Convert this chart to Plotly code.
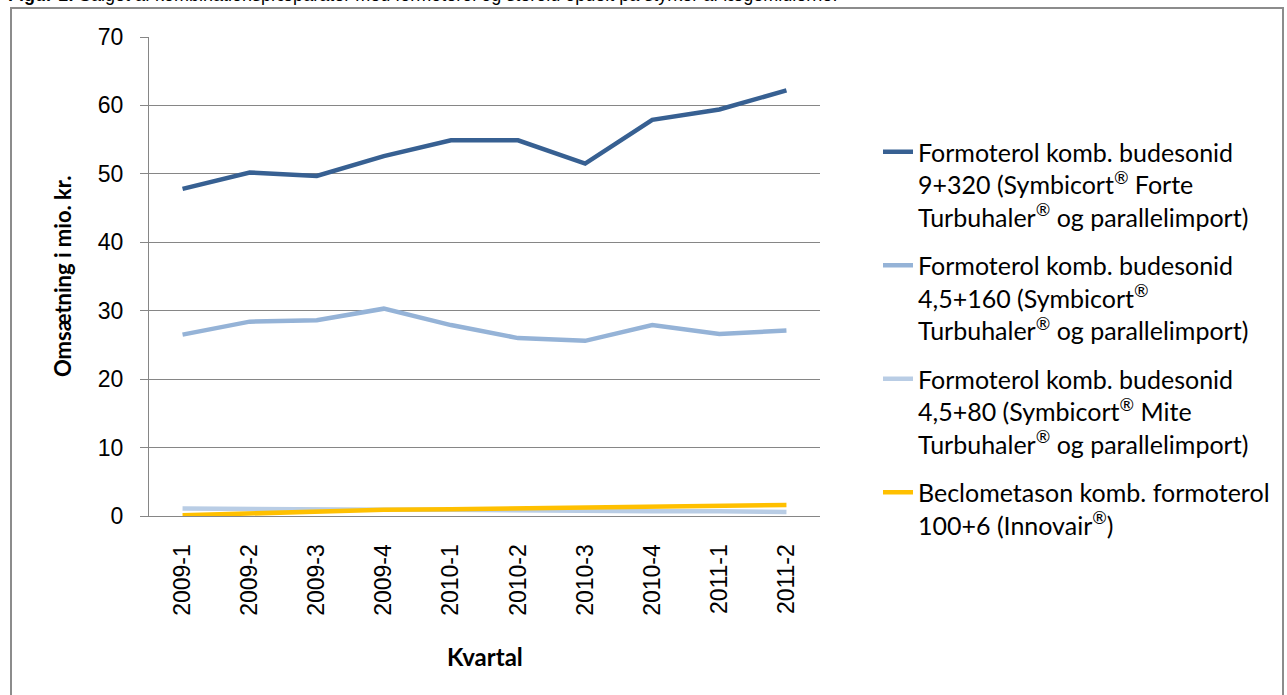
import plotly.graph_objects as go

quarters = ["2009-1", "2009-2", "2009-3", "2009-4", "2010-1", "2010-2", "2010-3", "2010-4", "2011-1", "2011-2"]
forte_9_320 = [47.8, 50.2, 49.7, 52.6, 54.9, 54.9, 51.5, 57.9, 59.4, 62.2]
std_4_5_160 = [26.5, 28.4, 28.6, 30.3, 27.9, 26.0, 25.6, 27.9, 26.6, 27.1]
mite_4_5_80 = [1.1, 1.0, 0.9, 0.9, 0.9, 0.8, 0.8, 0.7, 0.7, 0.6]
innovair = [0.1, 0.4, 0.6, 0.9, 1.0, 1.1, 1.2, 1.3, 1.4, 1.6]

names = [
    "Formoterol komb. budesonid<br>9+320 (Symbicort<sup>®</sup> Forte<br>Turbuhaler<sup>®</sup> og parallelimport)",
    "Formoterol komb. budesonid<br>4,5+160 (Symbicort<sup>®</sup><br>Turbuhaler<sup>®</sup> og parallelimport)",
    "Formoterol komb. budesonid<br>4,5+80 (Symbicort<sup>®</sup> Mite<br>Turbuhaler<sup>®</sup> og parallelimport)",
    "Beclometason komb. formoterol<br>100+6 (Innovair<sup>®</sup>)",
]
series = [forte_9_320, std_4_5_160, mite_4_5_80, innovair]
colors = ["#376092", "#95B3D7", "#B9CDE5", "#FFC000"]

W, H = 1287, 695
L, R, T, B = 149, 820, 37, 516

def px_x(p):
    return (p - L) / (R - L)

def px_y(p):
    return (B - p) / (B - T)

fig = go.Figure()
for i, (nm, vals, col) in enumerate(zip(names, series, colors)):
    fig.add_trace(go.Scatter(
        x=quarters, y=vals, name=nm, mode="lines",
        line=dict(color=col, width=4.5),
        legendgroup=f"g{i}",
    ))

fig.update_layout(
    width=W, height=H,
    margin=dict(l=L, r=W - R, t=T, b=H - B),
    paper_bgcolor="white", plot_bgcolor="white",
    showlegend=True,
    legend=dict(
        x=px_x(878), y=px_y(129), xanchor="left", yanchor="top",
        font=dict(family="Lato", size=25, color="#000000"),
        tracegroupgap=13, valign="top",
        bgcolor="rgba(0,0,0,0)",
    ),
    xaxis=dict(
        type="category", range=[-0.5, 9.5],
        showline=True, linecolor="#868686", linewidth=1,
        showgrid=False, ticks="",
        tickangle=-90,
        tickfont=dict(family="Liberation Sans", size=23, color="#000000"),
        ticklabelstandoff=18,
    ),
    yaxis=dict(
        range=[0, 70], dtick=10,
        showline=True, linecolor="#868686", linewidth=1,
        showgrid=True, gridcolor="#868686", gridwidth=1,
        ticks="outside", ticklen=8, tickcolor="#868686",
        tickfont=dict(family="Liberation Sans", size=23, color="#000000"),
        ticklabelstandoff=12,
        zeroline=False,
    ),
    annotations=[
        dict(text="Omsætning i mio. kr.", textangle=-90, xref="paper", yref="paper",
             x=px_x(62), y=px_y(277), xanchor="center", yanchor="middle", showarrow=False,
             font=dict(family="Lato", size=22, color="#000000", weight="bold")),
        dict(text="Kvartal", xref="paper", yref="paper",
             x=px_x(485), y=px_y(657), xanchor="center", yanchor="middle", showarrow=False,
             font=dict(family="Lato", size=24, color="#000000", weight="bold")),
        dict(text="<b>Figur 1:</b> Salget af kombinationspræparater med formoterol og steroid opdelt på styrker af lægemidlerne.",
             xref="paper", yref="paper", x=px_x(6), y=px_y(-5), xanchor="left", yanchor="middle",
             showarrow=False, font=dict(family="Liberation Sans", size=18, color="#000000")),
    ],
    shapes=[
        dict(type="rect", xref="paper", yref="paper",
             x0=px_x(11), x1=px_x(1283), y0=px_y(705), y1=px_y(8),
             line=dict(color="#8C8C8C", width=2), fillcolor="rgba(0,0,0,0)", layer="below"),
    ],
)

fig.write_html("out.html", config={"displayModeBar": False},
               post_script="document.body.style.margin='0';document.body.style.overflow='hidden';")
